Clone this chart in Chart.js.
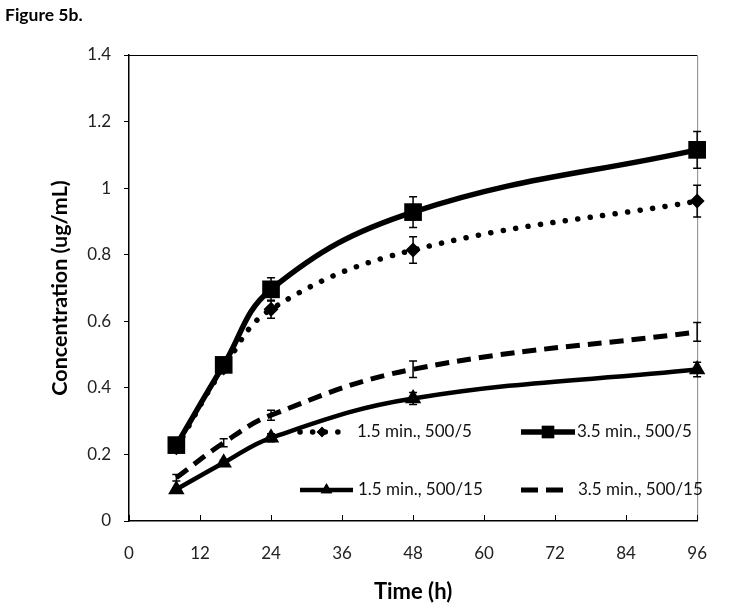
<!DOCTYPE html>
<html>
<head>
<meta charset="utf-8">
<script src="https://cdn.jsdelivr.net/npm/chart.js@4/dist/chart.umd.min.js"></script>
<style>
	html, body { margin: 0; padding: 0; background: #fff; }
</style>
</head>
<body>
<canvas id="fig5b" width="729" height="609"></canvas>
<script>
// sampling times (h)
const times = [8, 16, 24, 48, 96];

// concentration (ug/mL) per condition
const conc15min5 = [0.22, 0.46, 0.636, 0.814, 0.961];
const conc35min5 = [0.228, 0.469, 0.696, 0.928, 1.115];
const conc15min15 = [0.095, 0.175, 0.25, 0.368, 0.455];
const conc35min15 = [0.13, 0.235, 0.318, 0.456, 0.568];

// error bar half-widths
const err15min5 = [0.01, 0.01, 0.027, 0.04, 0.048];
const err35min5 = [0.01, 0.015, 0.035, 0.046, 0.055];
const err15min15 = [0.005, 0.008, 0.012, 0.018, 0.022];
const err35min15 = [0.01, 0.012, 0.015, 0.025, 0.028];

const seriesLabels = ['1.5 min., 500/5', '3.5 min., 500/5', '1.5 min., 500/15', '3.5 min., 500/15'];

const xTickValues = [0, 12, 24, 36, 48, 60, 72, 84, 96];
const yTickValues = [0, 0.2, 0.4, 0.6, 0.8, 1, 1.2, 1.4];

const FONT = 'Lato';

function toPoints(values) {
	return times.map((t, i) => ({ x: t, y: values[i] }));
}

const errorBars = {
	id: 'errorBars',
	afterDatasetsDraw(chart) {
		const { ctx, scales: { x, y } } = chart;
		ctx.save();
		ctx.strokeStyle = '#000';
		ctx.lineWidth = 1.5;
		chart.data.datasets.forEach((ds) => {
			ds.errors.forEach((e, i) => {
				const px = x.getPixelForValue(times[i]);
				const top = y.getPixelForValue(ds.data[i].y + e);
				const bot = y.getPixelForValue(ds.data[i].y - e);
				ctx.beginPath();
				ctx.moveTo(px, top);
				ctx.lineTo(px, bot);
				ctx.moveTo(px - 4, top);
				ctx.lineTo(px + 4, top);
				ctx.moveTo(px - 4, bot);
				ctx.lineTo(px + 4, bot);
				ctx.stroke();
			});
		});
		ctx.restore();
	}
};

const frame = {
	id: 'frame',
	beforeDatasetsDraw(chart) {
		const { ctx, chartArea: a, scales: { x } } = chart;
		ctx.save();
		ctx.lineWidth = 1;
		ctx.strokeStyle = '#000';
		ctx.beginPath();
		ctx.moveTo(a.left, a.top + 0.5);
		ctx.lineTo(a.right, a.top + 0.5);
		ctx.stroke();
		ctx.strokeStyle = '#888';
		ctx.beginPath();
		ctx.moveTo(a.right + 0.5, a.top);
		ctx.lineTo(a.right + 0.5, a.bottom);
		ctx.stroke();
		// x ticks point inward
		ctx.strokeStyle = '#000';
		ctx.beginPath();
		xTickValues.forEach((v) => {
			const px = Math.round(x.getPixelForValue(v)) + 0.5;
			ctx.moveTo(px, a.bottom);
			ctx.lineTo(px, a.bottom - 6);
		});
		ctx.stroke();
		// figure caption
		ctx.fillStyle = '#000';
		ctx.font = `bold 17.5px ${FONT}`;
		ctx.textBaseline = 'middle';
		ctx.textAlign = 'left';
		ctx.fillText('Figure 5b.', 5, 15);
		ctx.restore();
	}
};

const legendSpots = [
	{ x: 300, y: 432, len: 44, tx: 357 },
	{ x: 521, y: 432, len: 54, tx: 577 },
	{ x: 300, y: 490, len: 53, tx: 358 },
	{ x: 521, y: 490, len: 45, tx: 578 },
];

const insetLegend = {
	id: 'insetLegend',
	afterDraw(chart) {
		const { ctx } = chart;
		ctx.save();
		chart.data.datasets.forEach((ds, i) => {
			const s = legendSpots[i];
			ctx.strokeStyle = '#000';
			ctx.lineWidth = ds.borderWidth;
			ctx.lineCap = ds.borderCapStyle || 'butt';
			ctx.setLineDash(ds.legendDash || ds.borderDash || []);
			ctx.beginPath();
			ctx.moveTo(s.x, s.y);
			ctx.lineTo(s.x + s.len, s.y);
			ctx.stroke();
			ctx.setLineDash([]);
			if (ds.pointRadius > 0) {
				ctx.fillStyle = '#000';
				Chart.helpers.drawPoint(ctx, {
					pointStyle: ds.pointStyle,
					radius: ds.pointRadius * 0.7,
					borderWidth: 0,
					rotation: 0
				}, s.x + s.len / 2, s.y);
				ctx.fill();
			}
			ctx.fillStyle = '#111';
			ctx.font = `17px ${FONT}`;
			ctx.textAlign = 'left';
			ctx.textBaseline = 'middle';
			ctx.fillText(ds.label, s.tx, s.y);
		});
		ctx.restore();
	}
};

new Chart(document.getElementById('fig5b'), {
	type: 'scatter',
	data: {
		datasets: [
			{
				label: seriesLabels[0],
				data: toPoints(conc15min5),
				errors: err15min5,
				showLine: true,
				tension: 0.4,
				borderColor: '#000',
				backgroundColor: '#000',
				borderWidth: 5.5,
				borderDash: [0.1, 12.5],
				borderCapStyle: 'round',
				pointStyle: 'rectRot',
				pointRadius: 7.5,
				pointBorderWidth: 0,
				clip: false,
				order: 2,
			},
			{
				label: seriesLabels[1],
				data: toPoints(conc35min5),
				errors: err35min5,
				showLine: true,
				tension: 0.4,
				borderColor: '#000',
				backgroundColor: '#000',
				borderWidth: 5.5,
				pointStyle: 'rect',
				pointRadius: 12.5,
				pointBorderWidth: 0,
				clip: false,
				order: 1,
			},
			{
				label: seriesLabels[2],
				data: toPoints(conc15min15),
				errors: err15min15,
				showLine: true,
				tension: 0.4,
				borderColor: '#000',
				backgroundColor: '#000',
				borderWidth: 4.5,
				pointStyle: 'triangle',
				pointRadius: 9.5,
				pointBorderWidth: 0,
				clip: false,
				order: 3,
			},
			{
				label: seriesLabels[3],
				data: toPoints(conc35min15),
				errors: err35min15,
				showLine: true,
				tension: 0.4,
				borderColor: '#000',
				backgroundColor: '#000',
				borderWidth: 5,
				borderDash: [14, 8],
				legendDash: [17, 8],
				pointRadius: 0,
				clip: false,
				order: 4,
			},
		]
	},
	options: {
		responsive: false,
		animation: false,
		devicePixelRatio: 1,
		layout: {
			padding: { top: 55, right: 15, left: 0, bottom: 0 },
		},
		plugins: {
			legend: { display: false },
			tooltip: { enabled: false },
		},
		scales: {
			x: {
				type: 'linear',
				min: 0,
				max: 96,
				afterBuildTicks: (scale) => { scale.ticks = xTickValues.map((v) => ({ value: v })); },
				afterFit: (scale) => { scale.height = 88; },
				grid: { display: true, drawOnChartArea: false, drawTicks: false },
				border: { color: '#000', width: 1.5 },
				ticks: {
					color: '#222',
					padding: 22,
					maxRotation: 0,
					font: { family: FONT, size: 17 },
					callback: (v) => String(v),
				},
				title: {
					display: true,
					text: 'Time (h)',
					color: '#000',
					font: { family: FONT, size: 22, weight: 'bold' },
					padding: { top: 0, bottom: 4 },
				},
			},
			y: {
				type: 'linear',
				min: 0,
				max: 1.4,
				afterBuildTicks: (scale) => { scale.ticks = yTickValues.map((v) => ({ value: v })); },
				afterFit: (scale) => { scale.width = 129; },
				grid: { display: true, drawOnChartArea: false, drawTicks: true, tickLength: 5, color: '#000' },
				border: { color: '#000', width: 1.5 },
				ticks: {
					color: '#222',
					padding: 13,
					font: { family: FONT, size: 17 },
					callback: (v) => String(Number(v.toFixed(1))),
				},
				title: {
					display: true,
					text: 'Concentration (ug/mL)',
					color: '#000',
					font: { family: FONT, size: 21.5, weight: 'bold' },
					padding: { top: 47, bottom: 0 },
				},
			},
		},
	},
	plugins: [frame, errorBars, insetLegend],
});
</script>
</body>
</html>
